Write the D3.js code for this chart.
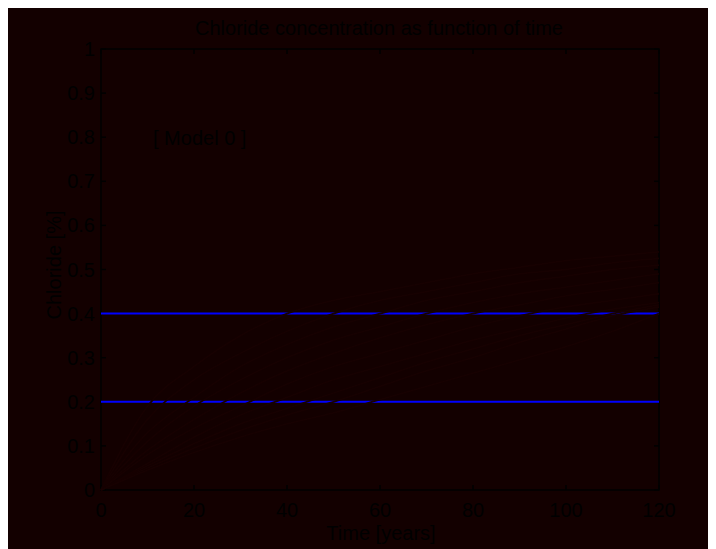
<!DOCTYPE html>
<html><head><meta charset="utf-8">
<script src="https://cdn.jsdelivr.net/npm/d3@7"></script>
<style>
html,body{margin:0;padding:0;background:#fff;overflow:hidden}
svg{position:absolute;left:8px;top:8px}
text{font-family:"Liberation Sans",Arial,Helvetica,sans-serif;fill:#000}
</style></head><body>
<script>
const title = "Chloride concentration as function of time";
const xLabel = "Time [years]";
const yLabel = "Chloride [%]";
const annotation = "[ Model 0 ]";
const xTicks = [0, 20, 40, 60, 80, 100, 120];
const yTicks = [0, 0.1, 0.2, 0.3, 0.4, 0.5, 0.6, 0.7, 0.8, 0.9, 1];
const yTickLabels = ["0", "0.1", "0.2", "0.3", "0.4", "0.5", "0.6", "0.7", "0.8", "0.9", "1"];
// horizontal reference levels (blue)
const levels = [0.4, 0.2];
// concentration curves sampled at these times
const times = [0, 10, 20, 30, 40, 50, 60, 70, 80, 90, 100, 110, 120];
const curve1 = [0, 0.19, 0.28, 0.35, 0.40, 0.43, 0.45, 0.47, 0.49, 0.505, 0.52, 0.53, 0.54];
const curve2 = [0, 0.16, 0.25, 0.31, 0.36, 0.40, 0.43, 0.45, 0.47, 0.49, 0.50, 0.515, 0.525];
const curve3 = [0, 0.13, 0.21, 0.28, 0.33, 0.37, 0.40, 0.43, 0.45, 0.47, 0.485, 0.50, 0.51];
const curve4 = [0, 0.11, 0.19, 0.25, 0.30, 0.34, 0.37, 0.40, 0.425, 0.445, 0.46, 0.475, 0.49];
const curve5 = [0, 0.09, 0.16, 0.22, 0.27, 0.31, 0.345, 0.375, 0.40, 0.42, 0.44, 0.455, 0.47];
const curve6 = [0, 0.08, 0.14, 0.19, 0.24, 0.28, 0.31, 0.34, 0.37, 0.395, 0.415, 0.43, 0.445];
const curve7 = [0, 0.06, 0.12, 0.17, 0.21, 0.25, 0.28, 0.31, 0.34, 0.365, 0.39, 0.41, 0.425];
const curve8 = [0, 0.055, 0.105, 0.15, 0.185, 0.22, 0.255, 0.29, 0.32, 0.35, 0.375, 0.40, 0.42];
const curve9 = [0, 0.05, 0.095, 0.135, 0.17, 0.20, 0.235, 0.27, 0.30, 0.335, 0.365, 0.395, 0.415];
const curve10 = [0, 0.045, 0.085, 0.12, 0.15, 0.175, 0.205, 0.235, 0.265, 0.295, 0.325, 0.36, 0.40];
const curves = [curve1, curve2, curve3, curve4, curve5, curve6, curve7, curve8, curve9, curve10];

const W = 700, H = 560;
const svg = d3.select("body").append("svg").attr("width", W).attr("height", H);
svg.append("rect").attr("width", W).attr("height", H).attr("fill", "#130000");

const x = d3.scaleLinear().domain([0, 120]).range([93, 651]);
const y = d3.scaleLinear().domain([0, 1]).range([482, 41]);

const g = svg.append("g");
const ax = g.append("g").attr("stroke", "#000").attr("stroke-width", 1.5).attr("fill", "none");
ax.append("rect").attr("x", x(0)).attr("y", y(1)).attr("width", x(120) - x(0)).attr("height", y(0) - y(1));
const tl = 5;
xTicks.forEach(t => {
  ax.append("line").attr("x1", x(t)).attr("x2", x(t)).attr("y1", y(0)).attr("y2", y(0) - tl);
  ax.append("line").attr("x1", x(t)).attr("x2", x(t)).attr("y1", y(1)).attr("y2", y(1) + tl);
});
yTicks.forEach(t => {
  ax.append("line").attr("y1", y(t)).attr("y2", y(t)).attr("x1", x(0)).attr("x2", x(0) + tl);
  ax.append("line").attr("y1", y(t)).attr("y2", y(t)).attr("x1", x(120)).attr("x2", x(120) - tl);
});

g.selectAll(".xt").data(xTicks).enter().append("text")
  .attr("x", d => x(d)).attr("y", y(0) + 27).attr("text-anchor", "middle")
  .attr("font-size", 20).text(d => d);
g.selectAll(".yt").data(yTicks).enter().append("text")
  .attr("x", x(0) - 6).attr("y", d => y(d) + 7).attr("text-anchor", "end")
  .attr("font-size", 20).text((d, i) => yTickLabels[i]);

const line = d3.line().x(d => x(d[0])).y(d => y(d[1]));
levels.forEach(v => {
  g.append("path").datum([[0, v], [120, v]]).attr("d", line)
    .attr("stroke", "#0000ff").attr("stroke-width", 2).attr("fill", "none");
});

curves.forEach(c => {
  g.append("path").datum(times.map((t, i) => [t, c[i]]))
    .attr("d", d3.line().x(d => x(d[0])).y(d => y(d[1])).curve(d3.curveMonotoneX))
    .attr("stroke", "#170101").attr("stroke-width", 1.8).attr("fill", "none");
});

g.append("text").attr("x", 371).attr("y", 27).attr("text-anchor", "middle")
  .attr("font-size", 20).text(title);
g.append("text").attr("x", 373).attr("y", 532).attr("text-anchor", "middle")
  .attr("font-size", 20).text(xLabel);
g.append("text").attr("transform", "translate(53,257) rotate(-90)").attr("text-anchor", "middle")
  .attr("font-size", 20).text(yLabel);
g.append("text").attr("x", 145).attr("y", 137).attr("font-size", 20).text(annotation);
</script>
</body></html>
